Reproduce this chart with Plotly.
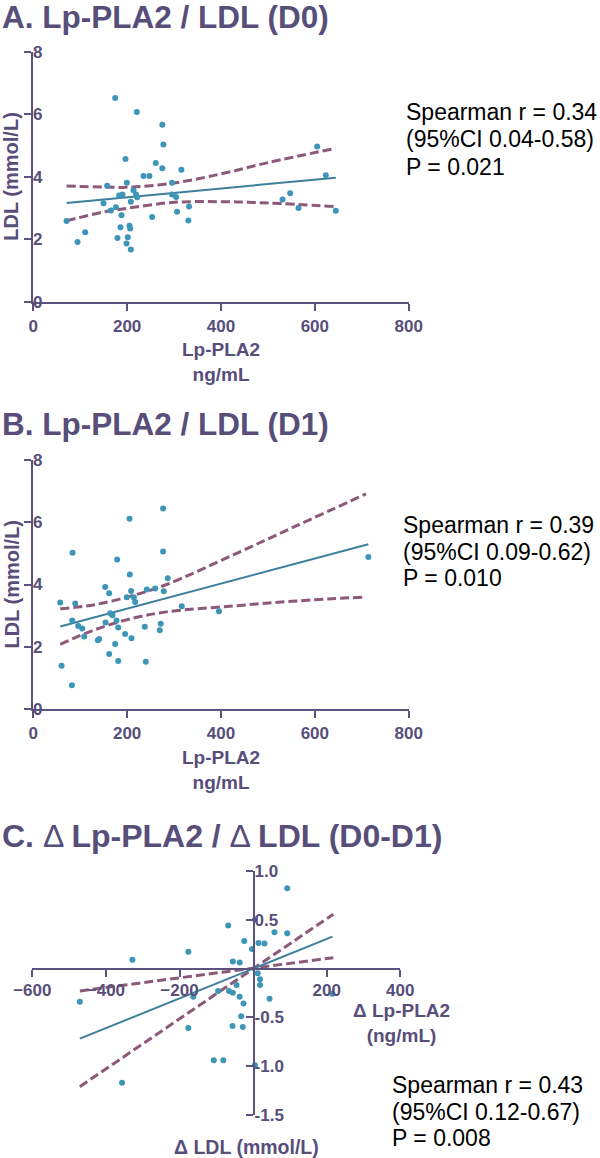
import plotly.graph_objects as go

W, H = 600, 1158

# ---------------- data ----------------
a_lppla2 = [70.9, 94.3, 110.6, 149.6, 157.4, 165.2, 174.5, 175.9, 179.4, 183.0, 185.8, 187.9,
            190.0, 196.5, 198.6, 199.3, 201.4, 205.0, 206.4, 207.8, 207.8, 213.5, 219.0, 220.6,
            221.3, 234.8, 247.5, 253.2, 261.0, 275.0, 275.0, 277.3, 295.7, 295.7, 304.3, 306.4,
            315.6, 330.5, 331.9, 531.2, 547.5, 565.2, 604.9, 623.4, 644.7]
a_ldl = [2.58, 1.91, 2.22, 3.15, 3.71, 2.92, 6.52, 3.02, 2.04, 3.40, 2.38, 2.77,
         3.43, 4.57, 1.86, 3.81, 2.06, 2.43, 2.34, 3.20, 1.67, 3.57, 3.43, 6.07,
         3.34, 4.02, 4.02, 2.71, 4.44, 5.66, 4.27, 5.03, 3.81, 3.43, 3.35, 2.88,
         4.22, 2.60, 3.05, 3.27, 3.47, 3.00, 4.97, 4.05, 2.91]
a_fit = {"slope": 0.00141, "intercept": 3.06}
a_ci_x = [70.9, 150, 200, 300, 400, 500, 644.7]
a_ci_upper = [3.70, 3.67, 3.66, 3.80, 4.09, 4.45, 4.91]
a_ci_lower = [2.59, 2.87, 2.99, 3.18, 3.20, 3.16, 3.04]
a_stats = ["Spearman r = 0.34", "(95%CI 0.04-0.58)", "P = 0.021"]

b_lppla2 = [57.4, 60.3, 82.3, 83.7, 83.0, 89.4, 95.7, 104.3, 108.5, 137.6, 140.4, 153.2,
            153.9, 161.7, 161.7, 163.8, 168.8, 174.5, 177.3, 178.7, 180.9, 180.9, 195.7,
            199.3, 205.0, 205.7, 208.5, 209.2, 214.2, 217.0, 237.6, 239.7, 241.8, 259.6,
            269.5, 271.6, 276.6, 276.6, 278.0, 286.5, 316.3, 395.7, 714.0]
b_ldl = [3.42, 1.39, 0.76, 5.02, 2.84, 3.39, 2.67, 2.59, 2.33, 2.21, 2.25, 3.92,
         2.78, 3.72, 1.77, 3.08, 3.01, 2.09, 2.84, 4.80, 2.62, 1.54, 2.41,
         3.59, 6.11, 4.32, 3.79, 2.27, 3.59, 3.44, 2.64, 1.52, 3.84, 3.87,
         2.53, 2.74, 6.44, 5.06, 3.78, 4.20, 3.30, 3.14, 4.88]
b_fit = {"slope": 0.00402, "intercept": 2.42}
b_ci_x = [57.4, 130, 213, 284, 426, 560, 709]
b_ci_upper = [3.22, 3.35, 3.65, 4.00, 4.95, 5.88, 6.91]
b_ci_lower = [2.08, 2.54, 2.92, 3.12, 3.31, 3.47, 3.60]
b_stats = ["Spearman r = 0.39", "(95%CI 0.09-0.62)", "P = 0.010"]

c_dlppla2 = [-470.8, -328.0, -356.0, -176.0, -176.0, -162.5, -107.0, -81.0, -95.0, -67.7,
             -65.6, -55.0, -55.0, -56.0, -45.0, -36.5, -36.5, -32.3, -28.0, -26.0, -24.0,
             -3.0, 5.0, 5.0, 12.5, 14.6, 18.75, 18.75, 31.0, 44.8, 58.0, 92.7, 92.7, 215.6]
c_dldl = [-0.34, 0.09, -1.17, 0.17, -0.61, -0.29, -0.94, -0.94, -0.23, 0.44,
          -0.23, 0.07, -0.25, -0.59, -0.17, 0.06, -0.29, -0.49, -0.60, -0.36, 0.28,
          0.20, 0.50, -0.99, -0.05, 0.26, -0.11, -0.17, 0.255, -0.31, 0.37, 0.82, 0.36, -0.26]
c_fit = {"slope": 0.00152, "intercept": -0.003}
c_ci_x = [-470.8, 218.0]
c_ci_steep = [-1.21, 0.555]
c_ci_shallow = [-0.23, 0.11]
c_stats = ["Spearman r = 0.43", "(95%CI 0.12-0.67)", "P = 0.008"]

xticks_ab = [0, 200, 400, 600, 800]
yticks_ab = [0, 2, 4, 6, 8]
xticks_c = [-600, -400, -200, 200, 400]
yticks_c = [-1.5, -1.0, -0.5, 0.5, 1.0]
yticktext_c = ["-1.5", "-1.0", "-0.5", "0.5", "1.0"]

# ---------------- styles ----------------
AX = "#5b527f"
TXT = "#574e7a"
PT = "#3d95b8"
FIT = "#3e7f9c"
CI = "#8c5a78"
FONT = "Liberation Sans, Arial, sans-serif"


def px(p):
    return p / W


def py(p):
    return 1 - p / H


fig = go.Figure()


def add_panel(xs, ys, fit, ci_x, ci_a, ci_b, xa, ya, spline):
    for band in (ci_a, ci_b):
        fig.add_trace(go.Scatter(x=ci_x, y=band, mode="lines", xaxis=xa, yaxis=ya,
                                 line=dict(color=CI, width=3, dash="9px,4px",
                                           shape="spline" if spline else "linear"),
                                 cliponaxis=False, showlegend=False, hoverinfo="skip"))
    x0, x1 = min(xs), max(xs)
    fig.add_trace(go.Scatter(x=[x0, x1],
                             y=[fit["intercept"] + fit["slope"] * x0,
                                fit["intercept"] + fit["slope"] * x1],
                             mode="lines", xaxis=xa, yaxis=ya,
                             line=dict(color=FIT, width=2),
                             showlegend=False, hoverinfo="skip"))
    fig.add_trace(go.Scatter(x=xs, y=ys, mode="markers", xaxis=xa, yaxis=ya,
                             marker=dict(color=PT, size=6),
                             cliponaxis=False, showlegend=False))


add_panel(a_lppla2, a_ldl, a_fit, a_ci_x, a_ci_upper, a_ci_lower, "x", "y", True)
add_panel(b_lppla2, b_ldl, b_fit, b_ci_x, b_ci_upper, b_ci_lower, "x2", "y2", True)
add_panel(c_dlppla2, c_dldl, c_fit, c_ci_x, c_ci_steep, c_ci_shallow, "x3", "y3", False)

tickfont = dict(family=FONT, size=17, color=TXT, weight="bold")
base_axis = dict(showline=True, linewidth=2, linecolor=AX, ticks="outside", ticklen=7,
                 tickwidth=2, tickcolor=AX, showgrid=False, zeroline=False,
                 tickfont=tickfont, fixedrange=True, automargin=False,
                 ticklabeloverflow="allow")

xdom_ab = [px(33.3), px(408.7)]
fig.update_layout(
    template="none",
    xaxis=dict(base_axis, domain=xdom_ab, range=[0, 800], tickvals=xticks_ab,
               anchor="y", ticklabelstandoff=1),
    yaxis=dict(base_axis, domain=[py(301.7), py(51.7)], range=[0, 8], tickvals=yticks_ab,
               anchor="x", ticklabelposition="inside"),
    xaxis2=dict(base_axis, domain=xdom_ab, range=[0, 800], tickvals=xticks_ab,
                anchor="y2", ticklabelstandoff=1),
    yaxis2=dict(base_axis, domain=[py(709), py(460)], range=[0, 8], tickvals=yticks_ab,
                anchor="x2", ticklabelposition="inside"),
    xaxis3=dict(base_axis, domain=[px(32.3), px(400.3)], range=[-600, 400],
                tickvals=xticks_c, anchor="free", position=py(969), ticklabelstandoff=-1),
    yaxis3=dict(base_axis, domain=[py(1115), py(870.7)], range=[-1.5, 1.0],
                tickvals=yticks_c, ticktext=yticktext_c, anchor="free", position=px(254),
                ticklabelposition="inside"),
)

ann = []


def text(t, x, y, size, color=TXT, bold=True, xanchor="center", angle=0):
    ann.append(dict(text=t, x=px(x), y=py(y), xref="paper", yref="paper",
                    xanchor=xanchor, yanchor="middle", showarrow=False, textangle=angle,
                    font=dict(family=FONT, size=size, color=color,
                              weight="bold" if bold else "normal")))


# titles
text("A. Lp-PLA2 / LDL (D0)", 0, 17, 31.5, xanchor="left")
text("B. Lp-PLA2 / LDL (D1)", 0, 424, 31.5, xanchor="left")
text("<b>C.</b> Δ <b>Lp-PLA2 /</b> Δ <b>LDL (D0-D1)</b>", 0, 836, 32, bold=False,
     xanchor="left")

# axis titles
for yc in (176.7, 584.5):
    text("LDL (mmol/L)", 11, yc, 20, angle=-90)
text("Lp-PLA2<br>ng/mL", 221, 362.5, 19)
text("Lp-PLA2<br>ng/mL", 221, 770.3, 19)
text("Δ Lp-PLA2<br>(ng/mL)", 401.7, 1023.4, 19)
text("Δ LDL (mmol/L)", 246.7, 1146.7, 19.5)

# statistics
for lines, x0, ys in ((a_stats, 404.0, (111.7, 139.5, 167.3)),
                      (b_stats, 400.5, (525, 551.7, 578.3)),
                      (c_stats, 389.5, (1085, 1111.7, 1138.3))):
    for t, yy in zip(lines, ys):
        text(t, x0, yy, 23, color="#000000", bold=False, xanchor="left")

fig.update_layout(width=W, height=H, margin=dict(l=0, r=0, t=0, b=0, pad=0),
                  paper_bgcolor="white", plot_bgcolor="white", annotations=ann,
                  showlegend=False)

fig.write_html("out.html", config={"displayModeBar": False},
               post_script="document.body.style.margin='0';document.body.style.padding='0';"
                           "document.documentElement.style.overflow='hidden';")
